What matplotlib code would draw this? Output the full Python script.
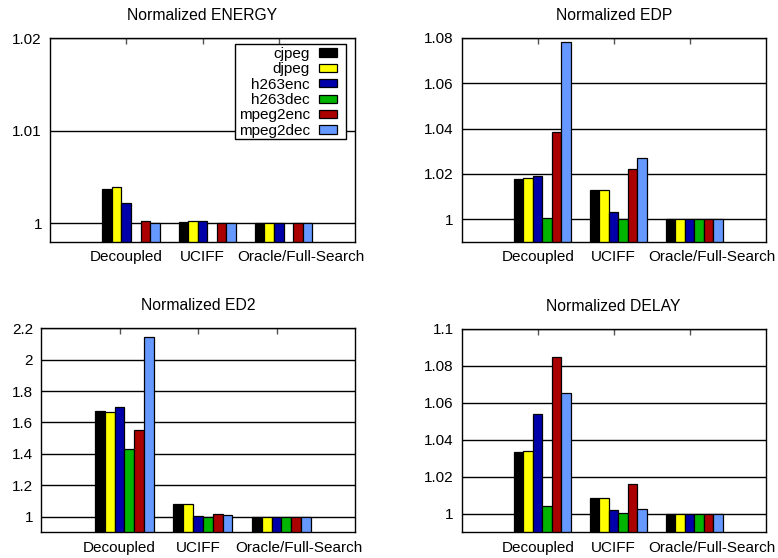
import numpy as np
import matplotlib
matplotlib.use("Agg")
import matplotlib.pyplot as plt
from matplotlib.transforms import ScaledTranslation
from matplotlib.patches import Rectangle

plt.rcParams['font.family'] = ['Liberation Sans', 'DejaVu Sans']
plt.rcParams['font.size'] = 11

groups = ["Decoupled", "UCIFF", "Oracle/Full-Search"]
benchmarks = ["cjpeg", "djpeg", "h263enc", "h263dec", "mpeg2enc", "mpeg2dec"]
colors = ["#000000", "#ffff00", "#0000aa", "#00b400", "#aa0000", "#6699ff"]

# one list per benchmark, values for Decoupled, UCIFF, Oracle/Full-Search
# (h263dec energy is not shown in the chart)
energy = {
    "cjpeg":    [1.0037, 1.00014, 1.0],
    "djpeg":    [1.00395, 1.00025, 1.0],
    "h263enc":  [1.00223, 1.0003, 1.0],
    "h263dec":  [np.nan, np.nan, np.nan],
    "mpeg2enc": [1.00025, 1.0, 1.0],
    "mpeg2dec": [1.0, 1.0, 1.0],
}
edp = {
    "cjpeg":    [1.0178, 1.0129, 1.0],
    "djpeg":    [1.0181, 1.0131, 1.0],
    "h263enc":  [1.0189, 1.0032, 1.0],
    "h263dec":  [1.0006, 1.0, 1.0],
    "mpeg2enc": [1.0383, 1.0220, 1.0],
    "mpeg2dec": [1.0781, 1.0272, 1.0],
}
ed2 = {
    "cjpeg":    [1.670, 1.083, 1.0],
    "djpeg":    [1.668, 1.081, 1.0],
    "h263enc":  [1.700, 1.006, 1.0],
    "h263dec":  [1.430, 1.0, 1.0],
    "mpeg2enc": [1.549, 1.019, 1.0],
    "mpeg2dec": [2.143, 1.013, 1.0],
}
delay = {
    "cjpeg":    [1.0335, 1.0085, 1.0],
    "djpeg":    [1.0342, 1.0085, 1.0],
    "h263enc":  [1.0542, 1.0018, 1.0],
    "h263dec":  [1.0045, 1.0002, 1.0],
    "mpeg2enc": [1.0849, 1.0159, 1.0],
    "mpeg2dec": [1.0654, 1.0027, 1.0],
}

energy_ticks = [1.0, 1.01, 1.02]
edp_ticks = [1.0, 1.02, 1.04, 1.06, 1.08]
ed2_ticks = [1.0, 1.2, 1.4, 1.6, 1.8, 2.0, 2.2]
delay_ticks = [1.0, 1.02, 1.04, 1.06, 1.08, 1.1]

W, H = 778, 558
fig = plt.figure(figsize=(W / 100, H / 100), dpi=100)


def px_axes(left, right, top, bottom):
    return fig.add_axes([left / W, 1 - bottom / H, (right - left) / W, (bottom - top) / H])


def draw_panel(ax, data, title, ylim, yticks):
    x = np.arange(len(groups))
    bw = 0.125
    for j, b in enumerate(benchmarks):
        ax.bar(x - 0.25 + j * bw, data[b], bw, color=colors[j],
               edgecolor="black", linewidth=0.9, label=b, zorder=2)
    ax.set_xlim(-1, 3)
    ax.set_ylim(*ylim)
    ax.set_yticks(yticks)
    ax.set_yticklabels(["%g" % t for t in yticks])
    ax.set_xticks(x)
    ax.set_xticklabels(groups)
    ax.yaxis.grid(True, color="black", linewidth=1.0)
    ax.set_axisbelow(True)
    ax.tick_params(axis="x", top=True, bottom=False, direction="in", length=4,
                   width=1, color="#555555", pad=6)
    ax.tick_params(axis="y", length=0, pad=5.8)
    for s in ax.spines.values():
        s.set_linewidth(1.0)
    # gnuplot pushed the long last label to the right
    last = ax.get_xticklabels()[-1]
    last.set_transform(last.get_transform() + ScaledTranslation(0.22, 0, fig.dpi_scale_trans))
    ax.set_title(title, pad=13, fontsize=11.3)


ax1 = px_axes(50, 355, 38, 242)
draw_panel(ax1, energy, "Normalized ENERGY", (0.998, 1.02), energy_ticks)
leg = ax1.legend(loc="upper right", bbox_to_anchor=((337 - 50) / 305, (242 - 47) / 204),
                 borderaxespad=0, borderpad=0, markerfirst=False, frameon=False,
                 handlelength=1.18, handleheight=0.45, labelspacing=0.09,
                 handletextpad=0.6, fontsize=11)
leg.set_zorder(6)
ax1.add_patch(Rectangle(((235 - 50) / 305, (242 - 139) / 204), 111 / 305, 95 / 204,
                        transform=ax1.transAxes, facecolor="white", edgecolor="black",
                        linewidth=1.0, zorder=5))

ax2 = px_axes(461.7, 765.7, 37.7, 242)
draw_panel(ax2, edp, "Normalized EDP", (0.99, 1.08), edp_ticks)

ax3 = px_axes(41, 355, 328.3, 532.3)
draw_panel(ax3, ed2, "Normalized ED2", (0.9, 2.2), ed2_ticks)

ax4 = px_axes(461.7, 765.7, 329, 532.3)
draw_panel(ax4, delay, "Normalized DELAY", (0.99, 1.1), delay_ticks)

fig.savefig("out.png", dpi=100)
